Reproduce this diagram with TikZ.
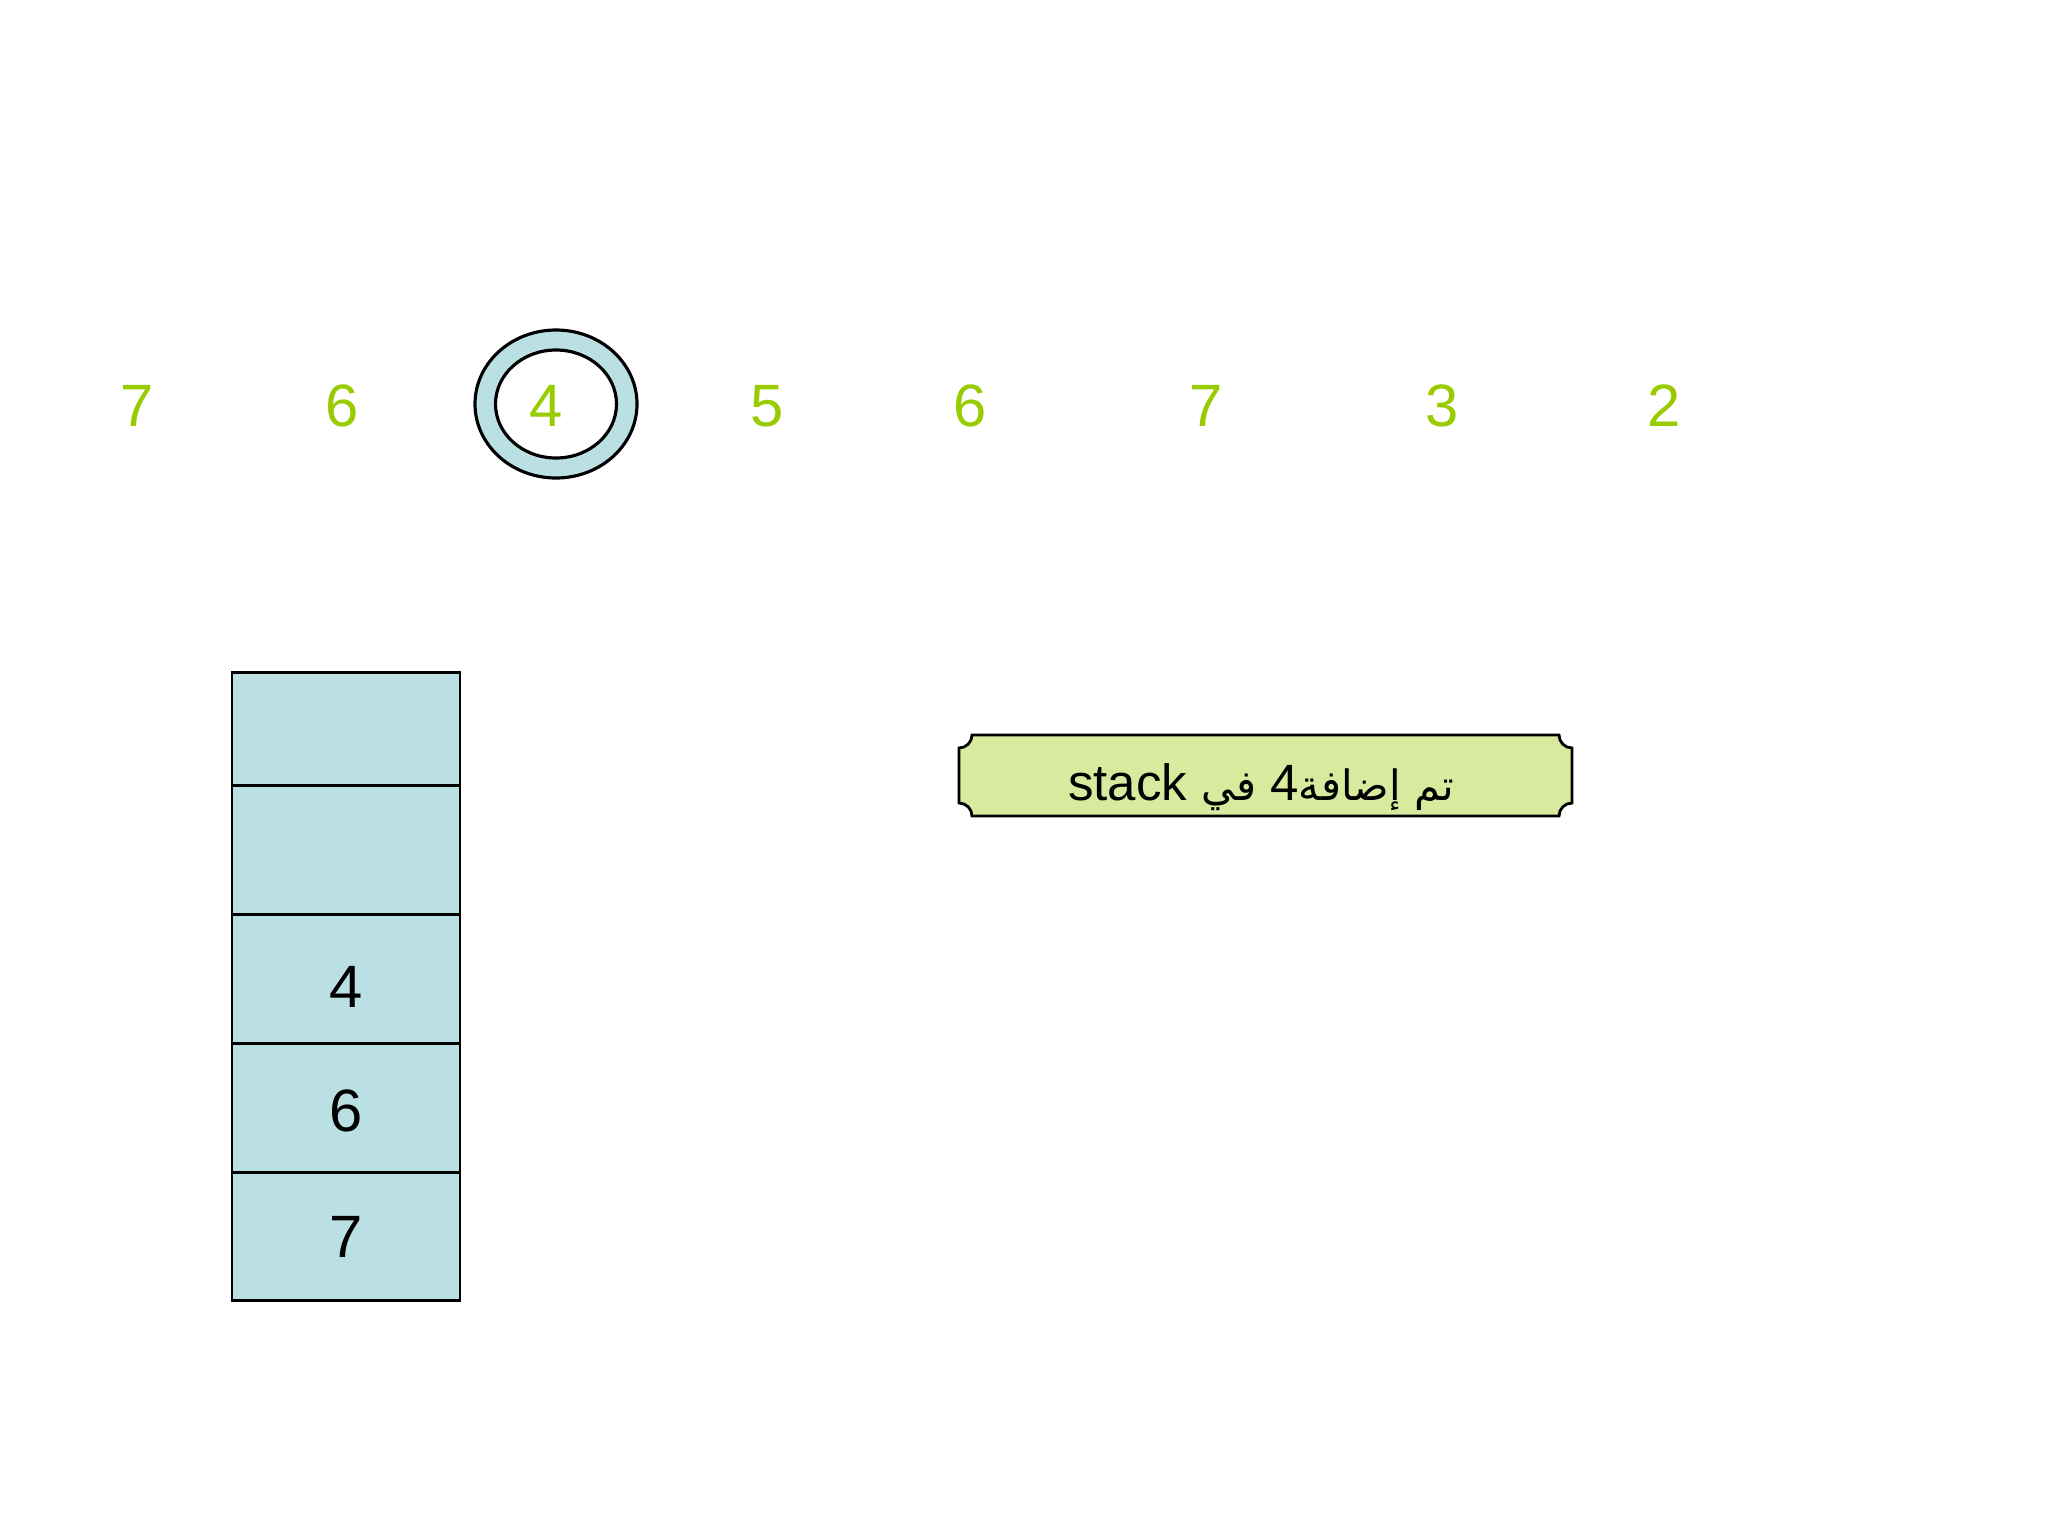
\documentclass[tikz,border=0pt]{standalone}
\usepackage{fontspec}
\setmainfont{Liberation Sans}
\newfontfamily\arabicfont[Script=Arabic,Scale=0.82]{DejaVu Sans}
\TeXXeTstate=1
\definecolor{lime}{RGB}{153,204,0}
\definecolor{stackblue}{RGB}{187,224,227}
\definecolor{plaque}{RGB}{216,234,158}
\tikzset{
  num/.style={text=lime, font=\fontsize{17}{19}\selectfont, inner sep=0pt},
  cellbox/.style={draw=black, line width=0.8pt, fill=stackblue, minimum width=2.28cm, inner sep=0pt, anchor=north},
  celltext/.style={font=\fontsize{17}{19}\selectfont, inner sep=0pt},
  ring/.style={draw=black, line width=0.9pt}
}
\begin{document}
\begin{tikzpicture}[x=0.01cm,y=0.01cm]
\useasboundingbox (0,0) rectangle (2048,-1536);
\fill[white] (0,0) rectangle (2048,-1536);
% ring around the 4
\fill[stackblue, even odd rule] (556,-404) ellipse [x radius=81, y radius=74]
                                (556,-404) ellipse [x radius=60.5, y radius=54];
\draw[ring] (556,-404) ellipse [x radius=81, y radius=74];
\draw[ring] (556,-404) ellipse [x radius=60.5, y radius=54];
% sequence
\node[num] (n1) at (137,-406) {7};
\node[num] (n2) at (342,-406) {6};
\node[num] (n3) at (546,-406) {4};
\node[num] (n4) at (767,-406) {5};
\node[num] (n5) at (970,-406) {6};
\node[num] (n6) at (1206,-406) {7};
\node[num] (n7) at (1442,-406) {3};
\node[num] (n8) at (1664,-406) {2};
% stack
\node[cellbox, minimum height=1.13cm] (c5) at (346,-671) {};
\node[cellbox, minimum height=1.29cm] (c4) at (346,-784) {};
\node[cellbox, minimum height=1.29cm] (c3) at (346,-913) {};
\node[cellbox, minimum height=1.29cm] (c2) at (346,-1042) {};
\node[cellbox, minimum height=1.28cm] (c1) at (346,-1171) {};
\node[celltext] (t3) at ([yshift=-0.08cm]c3.center) {4};
\node[celltext] (t2) at ([yshift=-0.03cm]c2.center) {6};
\node[celltext] (t1) at (c1.center) {7};
% plaque
\def\rr{13}
\draw[fill=plaque, line width=0.8pt]
  (959+\rr,-735) -- (1572-\rr,-735) arc[start angle=180, end angle=270, radius=\rr]
  -- (1572,-816+\rr) arc[start angle=90, end angle=180, radius=\rr]
  -- (959+\rr,-816) arc[start angle=0, end angle=90, radius=\rr]
  -- (959,-735-\rr) arc[start angle=270, end angle=360, radius=\rr] -- cycle;
\node[font=\fontsize{14.5}{17}\selectfont, inner sep=0pt] (msg) at (1261,-787)
  {\beginR{\arabicfont تم إضافة}4 {\arabicfont في} \beginL stack\endL\endR};
\end{tikzpicture}
\end{document}
